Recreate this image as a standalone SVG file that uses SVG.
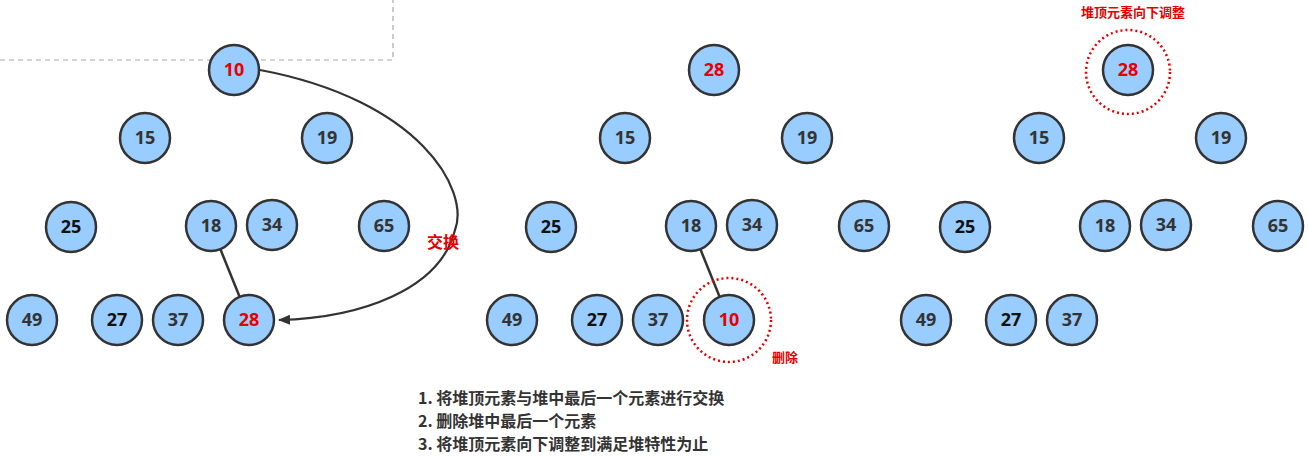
<svg xmlns="http://www.w3.org/2000/svg" width="1308" height="457" viewBox="0 0 1308 457">
<style>
.n circle{fill:#99ccff;stroke:#333;stroke-width:2.5}
.n text{font-family:"Open Sans","Noto Sans",sans-serif;font-weight:bold;font-size:18px;text-anchor:middle;fill:#333}
.n text.r{fill:#e60000}
.n text.k{fill:#111}
.e line{stroke:#333;stroke-width:2.5}
.lbl{font-family:"Noto Sans CJK SC",sans-serif;font-weight:bold;fill:#e60000}
.ring{fill:none;stroke:#e60000;stroke-width:2.5;stroke-dasharray:2 3}
.step{font-family:"Noto Sans CJK SC",sans-serif;font-weight:bold;font-size:16px;fill:#333}
</style>
<defs>
<marker id="ah" markerWidth="12" markerHeight="10" refX="11" refY="5" orient="auto" markerUnits="userSpaceOnUse"><path d="M0,0 L12,5 L0,10 z" fill="#333"/></marker>
<g id="edges1">
<line x1="234" y1="70" x2="145" y2="138"/><line x1="234" y1="70" x2="327" y2="138"/>
<line x1="145" y1="138" x2="71" y2="227"/><line x1="145" y1="138" x2="211" y2="226"/>
<line x1="327" y1="138" x2="272" y2="225"/><line x1="327" y1="138" x2="384" y2="226"/>
<line x1="71" y1="227" x2="32" y2="320"/><line x1="71" y1="227" x2="117" y2="320"/>
<line x1="211" y1="226" x2="178" y2="320"/>
</g>
</defs>
<g id="frame" fill="none" stroke="#aaa" stroke-width="1.2" stroke-dasharray="5 4"><path d="M0,60 H393 V0"/></g>
<g id="connectors">
<g class="e"><use href="#edges1"/><line x1="211" y1="226" x2="249" y2="320"/></g>
<g class="e" transform="translate(480,0)"><use href="#edges1"/><line x1="211" y1="226" x2="249" y2="320"/></g>
<g class="e" transform="translate(894,0)"><use href="#edges1"/></g>
<path d="M260,70 C420,100 470,190 455,230 C440,290 360,318 279,320" fill="none" stroke="#333" stroke-width="2.2" marker-end="url(#ah)"/>
</g>
<g id="tree1">
<g class="n" id="t1n10"><circle cx="234" cy="70" r="25"/><text class="r" x="234" y="76">10</text></g>
<g class="n" id="t1n15"><circle cx="145" cy="138" r="25"/><text x="145" y="144">15</text></g>
<g class="n" id="t1n19"><circle cx="327" cy="138" r="25"/><text x="327" y="144">19</text></g>
<g class="n" id="t1n25"><circle cx="71" cy="227" r="25"/><text class="k" x="71" y="233">25</text></g>
<g class="n" id="t1n18"><circle cx="211" cy="226" r="25"/><text x="211" y="232">18</text></g>
<g class="n" id="t1n34"><circle cx="272" cy="225" r="25"/><text x="272" y="231">34</text></g>
<g class="n" id="t1n65"><circle cx="384" cy="226" r="25"/><text x="384" y="232">65</text></g>
<g class="n" id="t1n49"><circle cx="32" cy="320" r="25"/><text x="32" y="326">49</text></g>
<g class="n" id="t1n27"><circle cx="117" cy="320" r="25"/><text class="k" x="117" y="326">27</text></g>
<g class="n" id="t1n37"><circle cx="178" cy="320" r="25"/><text x="178" y="326">37</text></g>
<g class="n" id="t1n28"><circle cx="249" cy="320" r="25"/><text class="r" x="249" y="326">28</text></g>
</g>
<text class="lbl" x="443" y="248" font-size="16" text-anchor="middle">交换</text>
<g id="tree2">
<g class="n" id="t2n28"><circle cx="714" cy="70" r="25"/><text class="r" x="714" y="76">28</text></g>
<g class="n" id="t2n15"><circle cx="625" cy="138" r="25"/><text x="625" y="144">15</text></g>
<g class="n" id="t2n19"><circle cx="807" cy="138" r="25"/><text x="807" y="144">19</text></g>
<g class="n" id="t2n25"><circle cx="551" cy="227" r="25"/><text class="k" x="551" y="233">25</text></g>
<g class="n" id="t2n18"><circle cx="691" cy="226" r="25"/><text x="691" y="232">18</text></g>
<g class="n" id="t2n34"><circle cx="752" cy="225" r="25"/><text x="752" y="231">34</text></g>
<g class="n" id="t2n65"><circle cx="864" cy="226" r="25"/><text x="864" y="232">65</text></g>
<g class="n" id="t2n49"><circle cx="512" cy="320" r="25"/><text x="512" y="326">49</text></g>
<g class="n" id="t2n27"><circle cx="597" cy="320" r="25"/><text class="k" x="597" y="326">27</text></g>
<g class="n" id="t2n37"><circle cx="658" cy="320" r="25"/><text x="658" y="326">37</text></g>
<g class="n" id="t2n10"><circle cx="729" cy="320" r="25"/><text class="r" x="729" y="326">10</text></g>
</g>
<circle class="ring" cx="729" cy="320" r="42"/>
<text class="lbl" x="785" y="362" font-size="13" text-anchor="middle">删除</text>
<g id="tree3">
<g class="n" id="t3n28"><circle cx="1128" cy="70" r="25"/><text class="r" x="1128" y="76">28</text></g>
<g class="n" id="t3n15"><circle cx="1039" cy="138" r="25"/><text x="1039" y="144">15</text></g>
<g class="n" id="t3n19"><circle cx="1221" cy="138" r="25"/><text x="1221" y="144">19</text></g>
<g class="n" id="t3n25"><circle cx="965" cy="227" r="25"/><text class="k" x="965" y="233">25</text></g>
<g class="n" id="t3n18"><circle cx="1105" cy="226" r="25"/><text x="1105" y="232">18</text></g>
<g class="n" id="t3n34"><circle cx="1166" cy="225" r="25"/><text x="1166" y="231">34</text></g>
<g class="n" id="t3n65"><circle cx="1278" cy="226" r="25"/><text x="1278" y="232">65</text></g>
<g class="n" id="t3n49"><circle cx="926" cy="320" r="25"/><text x="926" y="326">49</text></g>
<g class="n" id="t3n27"><circle cx="1011" cy="320" r="25"/><text class="k" x="1011" y="326">27</text></g>
<g class="n" id="t3n37"><circle cx="1072" cy="320" r="25"/><text x="1072" y="326">37</text></g>
</g>
<circle class="ring" cx="1128" cy="72" r="42"/>
<text class="lbl" x="1133" y="17" font-size="13" text-anchor="middle">堆顶元素向下调整</text>
<g id="steps">
<text class="step" x="418" y="404">1. 将堆顶元素与堆中最后一个元素进行交换</text>
<text class="step" x="418" y="427">2. 删除堆中最后一个元素</text>
<text class="step" x="418" y="450">3. 将堆顶元素向下调整到满足堆特性为止</text>
</g>
</svg>
